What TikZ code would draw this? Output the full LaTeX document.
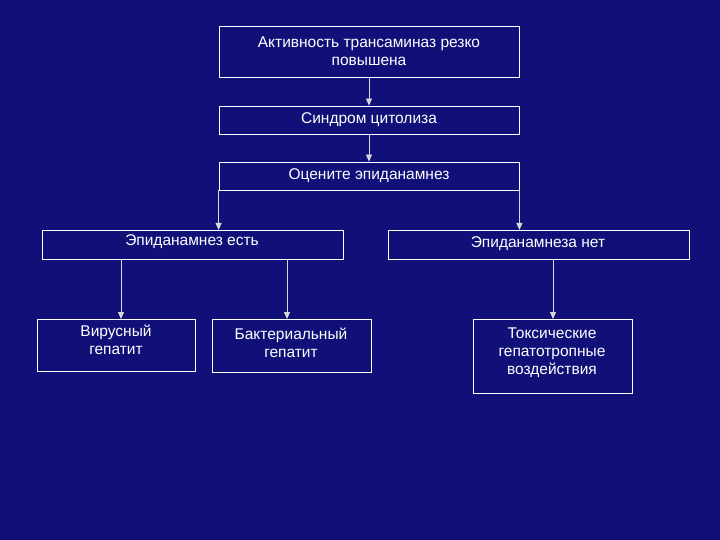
\documentclass[tikz,border=0pt]{standalone}
\usepackage{fontspec}
\setmainfont{Liberation Sans}
\usetikzlibrary{arrows.meta}
\definecolor{bg}{RGB}{16,16,120}
\begin{document}
\begin{tikzpicture}[x=1pt,y=-1pt,
  box/.style={draw=white,line width=0.8pt,text=white,font=\fontsize{15.5}{18}\selectfont,align=center,inner sep=0pt},
  lbl/.style={text=white,font=\fontsize{15.5}{18}\selectfont,align=center},
  arr/.style={draw=white!85!black,line width=0.8pt,-{Triangle[length=7pt,width=6pt]}}]
\fill[bg] (0,0) rectangle (720,540);
\useasboundingbox (0,0) rectangle (720,540);
\node[box,minimum width=300pt,minimum height=51pt] (a) at (369,51.5) {Активность трансаминаз резко\\повышена};
\node[box,minimum width=300pt,minimum height=28pt] (b) at (369,120) {Синдром цитолиза};
\node[box,minimum width=300pt,minimum height=28pt] (c) at (369,176) {Оцените эпиданамнез};
\node[box,minimum width=301pt,minimum height=29pt,anchor=north west] (d) at (42,230) {};
\node[lbl] (dt) at (192,242) {Эпиданамнез есть};
\node[box,minimum width=301pt,minimum height=29pt,anchor=north west] (e) at (388,230) {};
\node[lbl] (et) at (538,244) {Эпиданамнеза нет};
\node[box,minimum width=158pt,minimum height=52pt,anchor=north west] (f) at (37,319) {};
\node[lbl,anchor=north] (ft) at (116,321) {Вирусный\\гепатит};
\node[box,minimum width=159pt,minimum height=53pt,anchor=north west] (g) at (212,319) {};
\node[lbl,anchor=north] (gt) at (291,324) {Бактериальный\\гепатит};
\node[box,minimum width=159pt,minimum height=74pt,anchor=north west] (h) at (473,319) {};
\node[lbl,anchor=north] (ht) at (552,324) {Токсические\\гепатотропные\\воздействия};
\draw[arr] (a.south) -- (b.north);
\draw[arr] (b.south) -- (c.north);
\draw[arr] (c.south west) -- (c.south west |- d.north);
\draw[arr] (c.south east) -- (c.south east |- e.north);
\draw[arr] (121,259) -- (121,319);
\draw[arr] (287,259) -- (287,319);
\draw[arr] (553,259) -- (553,319);
\end{tikzpicture}
\end{document}
